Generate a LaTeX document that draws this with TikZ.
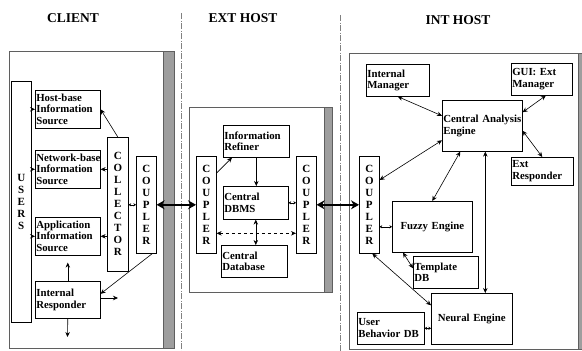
\documentclass[tikz,border=0pt]{standalone}
\usepackage{fontspec}
\setmainfont{Liberation Serif}
\usetikzlibrary{arrows.meta}
\definecolor{BarGray}{RGB}{158,158,158}
\definecolor{EdgeGray}{RGB}{95,95,95}
\hyphenpenalty=10000
\exhyphenpenalty=10000

\tikzset{
  blk/.style={draw=black, line width=0.6pt, anchor=north west, inner sep=1pt,
    align=left, font=\bfseries\fontsize{10.8}{11.7}\selectfont},
  col/.style={blk, align=center, font=\bfseries\fontsize{11}{12}\selectfont},
  link/.style={-{Stealth[length=5pt,width=4.5pt]}, line width=0.6pt},
  dlink/.style={{Stealth[length=5pt,width=4.5pt]}-{Stealth[length=5pt,width=4.5pt]}, line width=0.6pt},
  tinylink/.style={{Stealth[length=2.6pt,width=3.2pt]}-{Stealth[length=2.6pt,width=3.2pt]}, line width=0.5pt},
  bus/.style={{Stealth[length=8pt,width=9pt]}-{Stealth[length=8pt,width=9pt]}, line width=2.2pt},
  zone/.style={draw=EdgeGray, line width=0.9pt},
  bar/.style={fill=BarGray, draw=EdgeGray, line width=0.6pt},
  divider/.style={draw=gray, line width=0.8pt, dash pattern=on 6pt off 1.5pt on 1pt off 1.5pt},
  title/.style={font=\bfseries\fontsize{13.5}{15}\selectfont}
}

\begin{document}
\begin{tikzpicture}[x=1pt, y=-1pt]
\useasboundingbox (0,0) rectangle (582,351);

% Dividers between the hosts
\foreach \x/\y in {181/13, 340/15} {
    \draw[divider] (\x,\y) -- (\x,351);
}

% Titles
\node[title] (tclient) at (73,18) {CLIENT};
\node[title] (text) at (243,18) {EXT HOST};
\node[title] (tint) at (458,20) {INT HOST};

% Host frames with their shaded edge
\draw[zone] (9,51) rectangle (174,348);
\draw[bar] (163,51) rectangle (174,348);
\draw[zone] (189,107) rectangle (332,292);
\draw[bar] (324,107) rectangle (332,292);
\draw[zone] (349,53) rectangle (590,349);
\draw[bar] (578,53) rectangle (590,349);

% Couplers
\foreach \nm/\x in {cplA/136, cplB/196, cplC/296, cplD/359} {
    \node[col, minimum width=20, minimum height=97, text width=18] (\nm) at (\x,156) {C\\O\\U\\P\\L\\E\\R};
}

% Client
\node[col, minimum width=20, minimum height=241, text width=18] (users) at (11,81) {U\\S\\E\\R\\S};
\node[col, minimum width=21, minimum height=134, text width=19] (coll) at (107,137) {C\\O\\L\\L\\E\\C\\T\\O\\R};
\node[blk, minimum width=65, minimum height=38, text width=63] (hbis) at (35,90) {Host-base\\Information\\Source};
\node[blk, minimum width=65, minimum height=38, text width=63] (nbis) at (35,150) {Network-base\\Information\\Source};
\node[blk, minimum width=65, minimum height=38, text width=63] (ais) at (35,217) {Application\\Information\\Source};
\node[blk, minimum width=65, minimum height=37, text width=63] (ir) at (35,281) {Internal\\Responder};
\coordinate (irout) at (118,298);
\coordinate (irdown) at (67.5,337);

\draw[link] (users.east |- hbis.west) -- (hbis.west);
\draw[link] (users.east |- nbis.west) -- (nbis.west);
\draw[link] (users.east |- ais.west) -- (ais.west);
\draw[link] (coll.north) -- (hbis.east);
\draw[link] (coll.west |- nbis.east) -- (nbis.east);
\draw[link] (coll.west |- ais.east) -- (ais.east);
\draw[tinylink] (coll.east |- cplA.west) -- (cplA.west);
\draw[link] ([xshift=6pt]cplA.south) -- ([yshift=6pt]ir.east);
\draw[link, shorten >=7pt] (ir.north) -- (ais.south);
\draw[link] (ir.east |- irout) -- (irout);
\draw[link] (ir.south) -- (irdown);

% Ext host
\node[blk, minimum width=66, minimum height=32, text width=64] (refiner) at (223,125) {Information\\Refiner};
\node[blk, minimum width=65, minimum height=33, text width=63] (dbms) at (223,186) {Central\\DBMS};
\node[blk, minimum width=66, minimum height=32, text width=64] (cdb) at (221,245) {Central\\Database};

\draw[link] ([yshift=-17pt]cplB.north east) -- ([xshift=9pt]refiner.south west);
\draw[link] (refiner.south) -- (refiner.south |- dbms.north);
\draw[dlink] (dbms.south) -- (dbms.south |- cdb.north);
\draw[dlink, dashed] ([yshift=-28.5pt]cplB.east) -- ([yshift=-28.5pt]cplC.west);
\draw[tinylink] (dbms.east) -- (dbms.east -| cplC.west);

% Int host
\node[blk, minimum width=63, minimum height=32, text width=61] (im) at (366,64) {Internal\\Manager};
\node[blk, minimum width=61, minimum height=32, text width=59] (gui) at (511,63) {GUI: Ext\\Manager};
\node[blk, minimum width=80, minimum height=51, text width=78] (cae) at (442,100) {Central~Analysis\\Engine};
\node[blk, minimum width=62, minimum height=28, text width=60] (er) at (511,157) {Ext\\Responder};
\node[blk, minimum width=80, minimum height=51, text width=78, align=center] (fuzzy) at (392,201) {Fuzzy Engine};
\node[blk, minimum width=65, minimum height=32, text width=63] (tdb) at (413,256) {Template\\DB};
\node[blk, minimum width=81, minimum height=51, text width=79, align=center] (neural) at (431,293) {Neural Engine};
\node[blk, minimum width=67, minimum height=32, text width=65] (ubdb) at (357,312) {User\\Behavior DB};

\draw[dlink] (im.south) -- ([yshift=10pt]cae.west);
\draw[dlink] ([xshift=4pt]gui.south) -- ([yshift=13.5pt]cae.east);
\draw[dlink] ([yshift=-5pt]cae.east) -- (er.north);
\draw[dlink] ([yshift=-24pt]cplD.north east) -- ([yshift=-14.5pt]cae.west);
\draw[dlink] (fuzzy.north) -- ([xshift=-22pt]cae.south);
\draw[dlink] ([xshift=3pt]cae.south) -- ([xshift=3pt]cae.south |- neural.north);
\draw[tinylink] (cplD.east |- fuzzy.west) -- (fuzzy.west);
\draw[dlink] ([xshift=11pt]fuzzy.south west) -- ([yshift=4pt]tdb.west);
\draw[dlink] ([xshift=3pt]cplD.south) -- ([yshift=13.5pt]neural.west);
\draw[tinylink] (ubdb.east) -- (ubdb.east -| neural.west);

% Links between hosts
\draw[bus] (cplA.east) -- (cplB.west);
\draw[bus] (cplC.east) -- (cplD.west);

\end{tikzpicture}
\end{document}
